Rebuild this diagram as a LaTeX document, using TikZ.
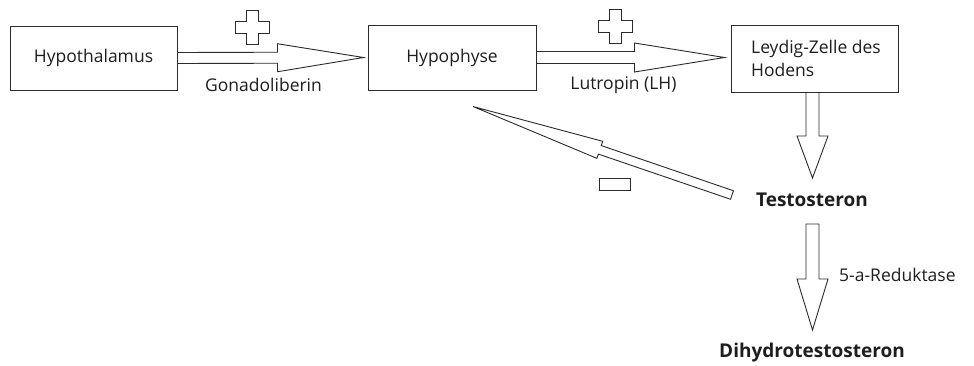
\documentclass[tikz,border=0pt]{standalone}
\usepackage{fontspec}
\setmainfont{Open Sans}
\usetikzlibrary{calc}
\definecolor{ln}{HTML}{2B2B2B}
\definecolor{tx}{HTML}{1E1E1E}
% #1 start, #2 tip, #3 half shaft, #4 half head, #5 head length
\newcommand\myblockarrow[5]{%
  \coordinate (ba-b) at ($(#2)!#5!(#1)$);
  \draw[blk] ($(#1)!#3!90:(#2)$) -- ($(ba-b)!#3!-90:(#1)$) -- ($(ba-b)!#4!-90:(#1)$) -- (#2)
    -- ($(ba-b)!#4!90:(#1)$) -- ($(ba-b)!#3!90:(#1)$) -- ($(#1)!#3!-90:(#2)$) -- cycle;}
\begin{document}
\begin{tikzpicture}[x=1pt,y=-1pt,
  every node/.style={font=\fontsize{17.5}{23}\selectfont, text=tx},
  box/.style={draw=ln, line width=1pt, inner sep=0pt},
  blk/.style={draw=ln, line width=0.9pt, fill=white, line join=miter},
  lbl/.style={inner sep=0pt},
  bold/.style={font=\fontsize{19}{23}\selectfont\bfseries, inner sep=0pt},
  plussign/.pic={\draw[blk] (-6,-17) -- (6,-17) -- (6,-6) -- (17,-6) -- (17,6) -- (6,6) -- (6,17)
      -- (-6,17) -- (-6,6) -- (-17,6) -- (-17,-6) -- (-6,-6) -- cycle;}]
\useasboundingbox[fill=white] (0,0) rectangle (974,365);

\node[box, minimum width=167pt, minimum height=64pt] (hth) at (93.5,58) {Hypothalamus};
\node[box, minimum width=168pt, minimum height=65pt] (hyp) at (452,57.5) {Hypophyse};
\node[box, minimum width=167pt, minimum height=67pt, align=left] (ley) at (814.5,58.5)
  {\hspace*{3pt}Leydig-Zelle des\\\hspace*{3pt}Hodens};
\node[bold] (testo) at (812,200) {Testosteron};
\node[bold] (dht) at (812,353) {Dihydrotestosteron};

\node[lbl] (gona) at (263.5,85) {Gonadoliberin};
\node[lbl] (lutro) at (623.5,85) {Lutropin (LH)};
\node[lbl, anchor=west] (redu) at (839,275) {5-a-Reduktase};

% horizontal arrows
\coordinate (a1e) at ($(hyp.west)+(-4,0)$);
\myblockarrow{hth.east}{a1e}{5.5pt}{14pt}{86pt}
\coordinate (a2e) at ($(ley.west)+(-6,-1)$);
\myblockarrow{hyp.east}{a2e}{6pt}{14.5pt}{90pt}

% vertical arrows
\coordinate (d1s) at ($(ley.south)+(-2,0)$);
\coordinate (d1e) at ($(testo.center)+(0.5,-22)$);
\myblockarrow{d1s}{d1e}{6.5pt}{15.5pt}{42pt}
\coordinate (d2s) at ($(testo.center)+(0.5,24)$);
\coordinate (d2e) at ($(dht.center)+(0.5,-23)$);
\myblockarrow{d2s}{d2e}{6.5pt}{15.5pt}{51pt}

% feedback arrow
\coordinate (fbs) at (732,195);
\coordinate (fbe) at ($(hyp.south)+(21,16)$);
\myblockarrow{fbs}{fbe}{4.5pt}{9pt}{134pt}

% signs
\pic at (252.5,27.5) {plussign};
\pic at (615.5,26) {plussign};
\node[box, minimum width=31pt, minimum height=12pt] (minus) at (614.5,184) {};
\end{tikzpicture}
\end{document}
